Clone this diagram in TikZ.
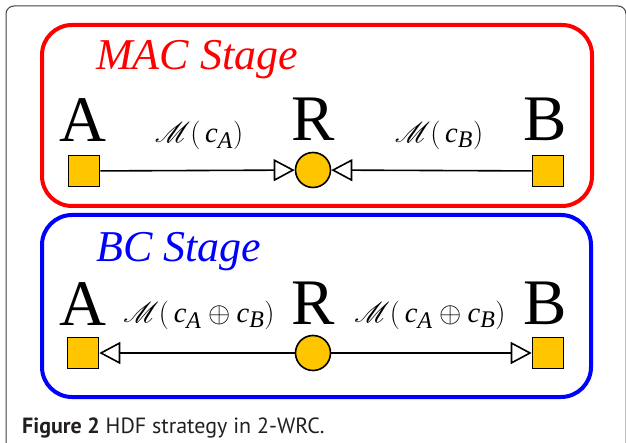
\documentclass[tikz,border=0pt]{standalone}
\usepackage{graphicx}
\usepackage{fontspec}
\usepackage{mathrsfs}
\setmainfont{Liberation Serif}
\newfontfamily\capfont{PT Sans}
\usetikzlibrary{arrows.meta}
\definecolor{gold}{RGB}{255,198,0}
\definecolor{capgray}{RGB}{35,31,32}
\newcommand{\mlab}[1]{\scalebox{1.15}{\fontsize{24.88}{25}\selectfont$#1$}}
\newcommand{\ci}[1]{\mathit{c}_{\mathit{#1}}}
\newcommand{\lp}{\mathrm{(}\,}
\newcommand{\rp}{\mathrm{)}}
\tikzset{
  stagebox/.style={line width=4pt, rounded corners=30pt},
  sqnode/.style={draw=black, line width=1.6pt, fill=gold, minimum size=31pt, inner sep=0pt},
  relnode/.style={draw=black, line width=1.6pt, fill=gold, circle, minimum size=35pt, inner sep=0pt},
  bigletter/.style={font=\fontsize{65}{65}\selectfont, inner sep=0pt, anchor=base},
  stagelabel/.style={font=\fontsize{44}{44}\selectfont\itshape, inner sep=0pt, anchor=base west},
  mlabel/.style={inner sep=0pt},
  conn/.style={line width=1.6pt, -{Triangle[open, length=21pt, width=22pt, fill=white]}}
}
\begin{document}
\begin{tikzpicture}[x=1pt, y=-1pt]
\useasboundingbox (0,0) rectangle (626,443);
% outer frame
\draw[line width=1pt, black!75, rounded corners=8pt] (6,450) -- (6,6) -- (626,6) -- (626,450);
% stage boxes
\draw[stagebox, red] (42,25) rectangle (592,206);
\draw[stagebox, blue] (42,215) rectangle (591,397);
% MAC stage
\node[stagelabel, text=red] (macl) at (96,70) {MAC Stage};
\node[bigletter] (lA1) at (83,142) {A};
\node[bigletter] (lR1) at (313,141) {R};
\node[bigletter] (lB1) at (545,141) {B};
\node[sqnode] (A1) at (84,171) {};
\node[relnode] (R1) at (313,170) {};
\node[sqnode] (B1) at (548,171) {};
\node[mlabel] (m1) at (199,135) {\mlab{\mathscr{M}\lp\ci{A}\rp}};
\node[mlabel] (m2) at (439,135) {\mlab{\mathscr{M}\lp\ci{B}\rp}};
\draw[conn] (A1) -- (R1);
\draw[conn] (B1) -- (R1);
% BC stage
\node[stagelabel, text=blue] (bcl) at (96,262) {BC Stage};
\node[bigletter] (lA2) at (83,326) {A};
\node[bigletter] (lR2) at (313,325) {R};
\node[bigletter] (lB2) at (545,325) {B};
\node[sqnode] (A2) at (83,353) {};
\node[relnode] (R2) at (313,353) {};
\node[sqnode] (B2) at (548,353) {};
\node[mlabel] (m3) at (199,315) {\mlab{\mathscr{M}\lp\ci{A}\oplus\ci{B}\rp}};
\node[mlabel] (m4) at (430,315) {\mlab{\mathscr{M}\lp\ci{A}\oplus\ci{B}\rp}};
\draw[conn] (R2) -- (A2);
\draw[conn] (R2) -- (B2);
% caption
\node[anchor=base west, inner sep=0pt, text=capgray, font=\capfont\fontsize{22}{22}\selectfont] (cap) at (22,433) {\textbf{Figure 2} HDF strategy in 2-WRC.};
\end{tikzpicture}
\end{document}
